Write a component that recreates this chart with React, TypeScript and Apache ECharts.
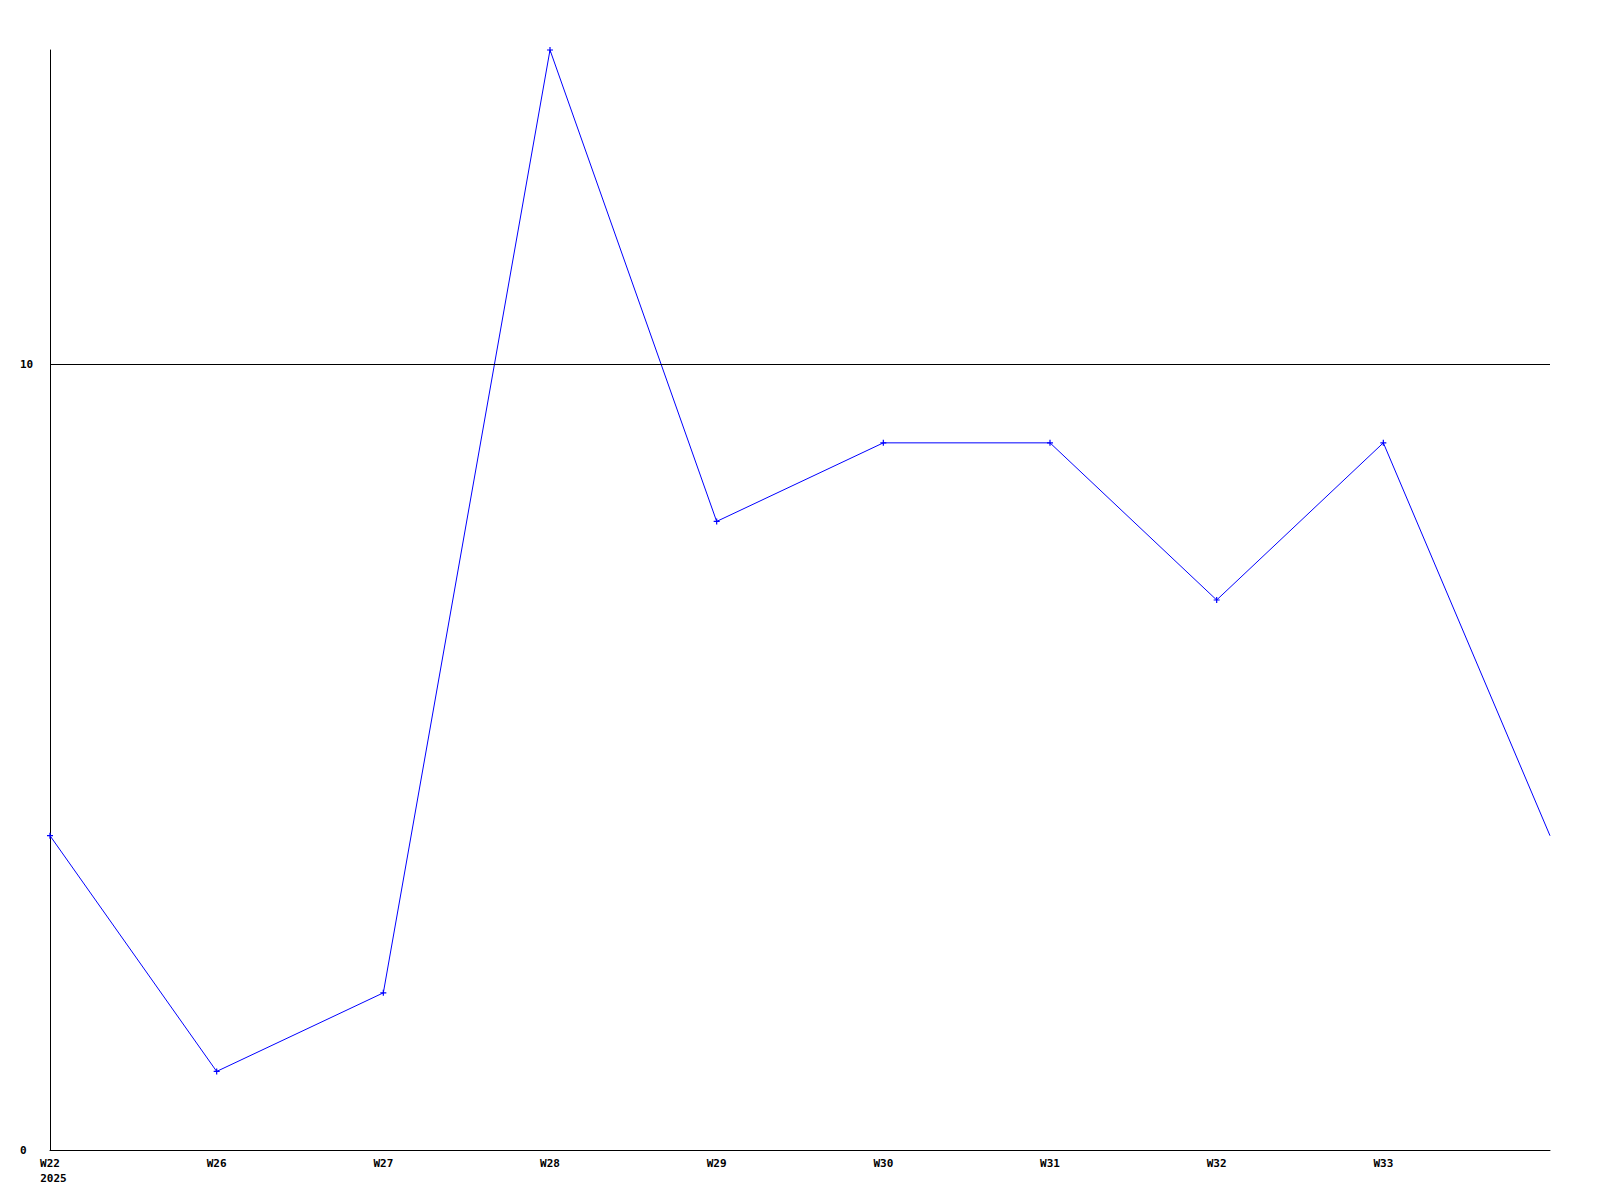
import React, { useEffect, useRef } from "react";
import * as echarts from "echarts";

const categories = ["W22", "W26", "W27", "W28", "W29", "W30", "W31", "W32", "W33", ""];
const yearLabel = "2025";
const values = [4, 1, 2, 14, 8, 9, 9, 7, 9, 4];
const yTicks = [0, 10];

export default function App() {
  const ref = useRef<HTMLDivElement>(null);
  useEffect(() => {
    if (!ref.current) return;
    const chart = echarts.init(ref.current, null, { renderer: "svg" });
    const font = { fontFamily: "DejaVu Sans Mono", fontWeight: "bold" as const, fontSize: 11, color: "#000" };
    chart.setOption({
      animation: false,
      backgroundColor: "#fff",
      grid: { left: 50, right: 50, top: 50, bottom: 50 },
      xAxis: {
        type: "category",
        data: categories,
        boundaryGap: false,
        axisLine: { lineStyle: { color: "#000", width: 1 } },
        axisTick: { show: false },
        axisLabel: {
          ...font,
          interval: 0,
          margin: 6,
          lineHeight: 15,
          formatter: (v: string, i: number) => (i === 0 ? `{a|${v}}\n{b|${yearLabel}}` : v),
          rich: {
            a: { ...font, lineHeight: 15 },
            b: { ...font, lineHeight: 15, padding: [0, 0, 0, 7] },
          },
        },
        splitLine: { show: false },
      },
      yAxis: {
        type: "value",
        min: 0,
        max: 14,
        interval: 2,
        axisLine: { show: true, lineStyle: { color: "#000", width: 1 } },
        axisTick: { show: false },
        splitLine: { show: false },
        axisLabel: {
          ...font,
          align: "left",
          margin: 30,
          showMaxLabel: false,
          formatter: (v: number) => (yTicks.includes(v) ? String(v) : ""),
        },
      },
      series: [
        {
          type: "line",
          data: values.map((v, i) => (i === values.length - 1 ? { value: v, symbol: "none" } : v)),
          symbol: "path://M2,0 L3,0 L3,2 L5,2 L5,3 L3,3 L3,5 L2,5 L2,3 L0,3 L0,2 L2,2 Z",
          symbolSize: 6,
          showAllSymbol: true,
          lineStyle: { color: "#0000ff", width: 1 },
          itemStyle: { color: "#0000ff" },
          markLine: {
            silent: true,
            symbol: "none",
            label: { show: false },
            lineStyle: { color: "#000", width: 1, type: "solid" },
            data: [{ yAxis: 10 }],
          },
        },
      ],
    });
    return () => chart.dispose();
  }, []);
  return <div ref={ref} style={{ position: "absolute", left: 0, top: 0, width: 1600, height: 1200 }} />;
}
